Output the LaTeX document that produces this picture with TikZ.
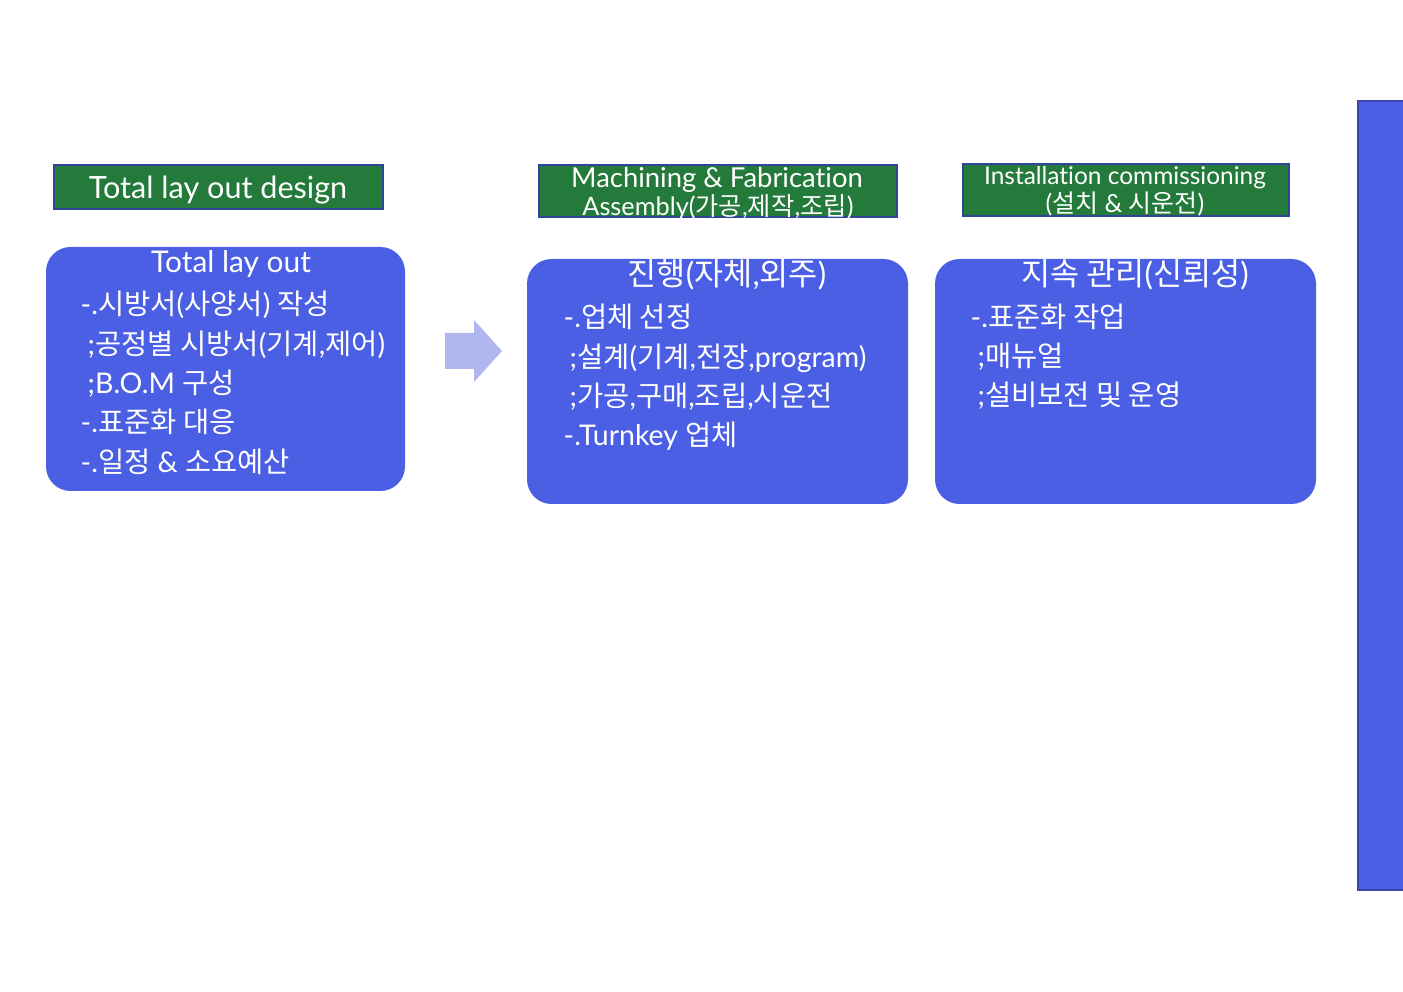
\documentclass[tikz,border=0pt]{standalone}
\usepackage{fontspec}
\setmainfont{Lato}[Ligatures={NoCommon}]
\newfontfamily\kr{Noto Sans CJK KR}
\newcommand\K[1]{{\kr #1}}
\definecolor{boxblue}{HTML}{4A5FE3}
\definecolor{hdrgreen}{HTML}{237A3A}
\definecolor{hdrline}{HTML}{2F4596}
\definecolor{barline}{HTML}{3A48B0}
\definecolor{arrowblue}{HTML}{B0B6EE}
\begin{document}
\begin{tikzpicture}[x=0.01cm,y=-0.01cm,
  hdr/.style={draw=hdrline,line width=0.6pt,fill=hdrgreen},
  panel/.style={fill=boxblue,rounded corners=7pt},
  bodytxt/.style={text=white,inner sep=0pt,anchor=base west,font=\fontsize{8.1}{9}\selectfont},
  titletxt/.style={text=white,inner sep=0pt,anchor=base,font=\fontsize{8.5}{10}\selectfont},
  ktitletxt/.style={text=white,inner sep=0pt,anchor=base,font=\fontsize{9}{10}\selectfont},
  hdrtxt/.style={text=white,inner sep=0pt,anchor=base}]
\useasboundingbox (0,0) rectangle (1403,992);
% headers
\draw[hdr] (54,165) rectangle (383,209);
\node[hdrtxt,font=\fontsize{8.7}{10}\selectfont] (h1) at (218,199) {Total lay out design};
\draw[hdr] (539,165) rectangle (897,217);
\node[hdrtxt,font=\fontsize{7.8}{8}\selectfont] (h2a) at (717,188) {Machining \& Fabrication};
\node[hdrtxt,font=\fontsize{7.2}{8}\selectfont] (h2b) at (718,216) {Assembly(\K{가공},\K{제작},\K{조립})};
\draw[hdr] (963,164) rectangle (1289,216);
\node[hdrtxt,font=\fontsize{6.95}{8}\selectfont] (h3a) at (1125,185) {Installation commissioning};
\node[hdrtxt,font=\fontsize{7.1}{8}\selectfont] (h3b) at (1125,213) {(\K{설치} \& \K{시운전})};
% panels
\fill[panel] (46,247) rectangle (405,491);
\fill[panel] (527,259) rectangle (908,504);
\fill[panel] (935,259) rectangle (1316,504);
% panel 1
\node[titletxt] (t1) at (231,273) {Total lay out};
\node[bodytxt] (a1) at (80,315) {-.\K{시방서}(\K{사양서}) \K{작성}};
\node[bodytxt] (a2) at (87,355) {;\K{공정별 시방서}(\K{기계},\K{제어})};
\node[bodytxt] (a3) at (87,394) {;B.O.M \K{구성}};
\node[bodytxt] (a4) at (80,433) {-.\K{표준화 대응}};
\node[bodytxt] (a5) at (80,473) {-.\K{일정} \& \K{소요예산}};
% panel 2
\node[ktitletxt] (t2) at (727,286) {\K{진행}(\K{자체},\K{외주})};
\node[bodytxt] (b1) at (563,328) {-.\K{업체 선정}};
\node[bodytxt] (b2) at (569,368) {;\K{설계}(\K{기계},\K{전장},program)};
\node[bodytxt] (b3) at (569,407) {;\K{가공},\K{구매},\K{조립},\K{시운전}};
\node[bodytxt] (b4) at (563,446) {-.Turnkey \K{업체}};
% panel 3
\node[ktitletxt] (t3) at (1135,286) {\K{지속 관리}(\K{신뢰성})};
\node[bodytxt] (c1) at (970,328) {-.\K{표준화 작업}};
\node[bodytxt] (c2) at (977,367) {;\K{매뉴얼}};
\node[bodytxt] (c3) at (977,406) {;\K{설비보전 및 운영}};
% arrow
\fill[arrowblue] (445,333) -- (474,333) -- (474,320) -- (502,351) -- (474,382) -- (474,369) -- (445,369) -- cycle;
% right bar
\draw[fill=boxblue,draw=barline,line width=0.8pt] (1358,101) rectangle (1410,890);
\end{tikzpicture}
\end{document}
